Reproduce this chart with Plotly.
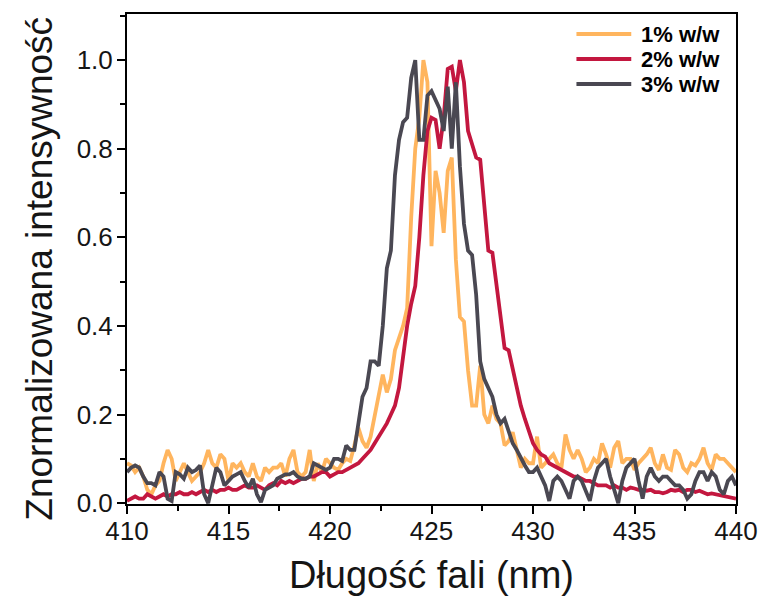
import numpy as np
import plotly.graph_objects as go

# Wavelength grid of the spectra (nm), 0.2 nm sampling
wavelength = np.round(np.arange(410.0, 440.0001, 0.2), 1)

# Normalised emission intensity, 1% w/w
int_1 = [
    0.09, 0.085, 0.07, 0.08, 0.06, 0.03, 0.02, 0.04, 0.05, 0.09,
    0.12, 0.10, 0.05, 0.07, 0.09, 0.07, 0.05, 0.06, 0.07, 0.09,
    0.12, 0.09, 0.08, 0.11, 0.10, 0.05, 0.09, 0.08, 0.09, 0.07,
    0.06, 0.09, 0.06, 0.05, 0.08, 0.07, 0.08, 0.08, 0.09, 0.06,
    0.10, 0.12, 0.07, 0.06, 0.07, 0.12, 0.05, 0.09, 0.07, 0.10,
    0.09, 0.08, 0.075, 0.09, 0.10, 0.095, 0.13, 0.17, 0.14, 0.125,
    0.15, 0.20, 0.24, 0.29, 0.25, 0.28, 0.345, 0.37, 0.40, 0.44,
    0.645, 0.80, 0.87, 1.0, 0.95, 0.58, 0.75, 0.70, 0.61, 0.75,
    0.78, 0.55, 0.42, 0.41, 0.30, 0.22, 0.22, 0.31, 0.20, 0.18,
    0.22, 0.19, 0.18, 0.13, 0.14, 0.16, 0.12, 0.08, 0.10, 0.09,
    0.09, 0.15, 0.08, 0.09, 0.10, 0.11, 0.09, 0.08, 0.155, 0.12,
    0.10, 0.12, 0.10, 0.07, 0.08, 0.10, 0.09, 0.135, 0.11, 0.08,
    0.125, 0.14, 0.09, 0.10, 0.10, 0.075, 0.09, 0.10, 0.11, 0.125,
    0.09, 0.075, 0.11, 0.08, 0.075, 0.12, 0.11, 0.08, 0.07, 0.09,
    0.085, 0.10, 0.125, 0.09, 0.075, 0.11, 0.10, 0.10, 0.09, 0.08,
    0.07,
]

# Normalised emission intensity, 2% w/w
int_2 = [
    0.005, 0.01, 0.015, 0.01, 0.01, 0.02, 0.015, 0.01, 0.015, 0.02,
    0.015, 0.02, 0.02, 0.025, 0.02, 0.02, 0.025, 0.02, 0.025, 0.03,
    0.025, 0.03, 0.025, 0.03, 0.03, 0.035, 0.03, 0.03, 0.035, 0.04,
    0.035, 0.035, 0.04, 0.035, 0.03, 0.04, 0.045, 0.04, 0.05, 0.045,
    0.05, 0.045, 0.05, 0.055, 0.055, 0.06, 0.06, 0.065, 0.07, 0.07,
    0.06, 0.065, 0.07, 0.07, 0.075, 0.08, 0.085, 0.09, 0.10, 0.11,
    0.12, 0.135, 0.15, 0.165, 0.18, 0.20, 0.22, 0.26, 0.33, 0.40,
    0.45, 0.49, 0.60, 0.74, 0.84, 0.87, 0.865, 0.80, 0.87, 0.98,
    0.985, 0.93, 1.0, 0.95, 0.84, 0.81, 0.78, 0.775, 0.68, 0.57,
    0.565, 0.49, 0.41, 0.35, 0.345, 0.30, 0.26, 0.22, 0.19, 0.16,
    0.135, 0.12, 0.11, 0.105, 0.09, 0.085, 0.08, 0.075, 0.07, 0.067,
    0.06, 0.06, 0.055, 0.05, 0.05, 0.045, 0.04, 0.04, 0.04, 0.035,
    0.04, 0.035, 0.035, 0.03, 0.035, 0.033, 0.03, 0.03, 0.028, 0.03,
    0.025, 0.025, 0.022, 0.025, 0.03, 0.028, 0.03, 0.025, 0.03, 0.03,
    0.025, 0.028, 0.025, 0.02, 0.022, 0.02, 0.018, 0.015, 0.014, 0.012,
    0.01,
]

# Normalised emission intensity, 3% w/w
int_3 = [
    0.07, 0.08, 0.085, 0.08, 0.06, 0.045, 0.045, 0.04, 0.07, 0.06,
    0.01, 0.005, 0.07, 0.065, 0.055, 0.08, 0.07, 0.075, 0.085, 0.02,
    0.0, 0.04, 0.08, 0.07, 0.04, 0.05, 0.06, 0.065, 0.07, 0.05,
    0.035, 0.055, 0.02, 0.002, 0.03, 0.035, 0.04, 0.055, 0.06, 0.065,
    0.065, 0.07, 0.06, 0.055, 0.055, 0.06, 0.09, 0.085, 0.08, 0.075,
    0.08, 0.10, 0.10, 0.095, 0.13, 0.12, 0.12, 0.18, 0.24, 0.26,
    0.32, 0.32, 0.31, 0.40, 0.53, 0.57, 0.74, 0.82, 0.86, 0.87,
    0.96, 1.0, 0.82, 0.82, 0.92, 0.93, 0.91, 0.89, 0.84, 0.94,
    0.80, 0.95, 0.76, 0.63, 0.57, 0.56, 0.47, 0.32, 0.28, 0.26,
    0.24, 0.20, 0.18, 0.19, 0.16, 0.135, 0.12, 0.10, 0.085, 0.07,
    0.07, 0.08, 0.06, 0.04, 0.005, 0.05, 0.06, 0.05, 0.03, 0.01,
    0.05, 0.06, 0.05, 0.03, 0.005, 0.05, 0.08, 0.09, 0.10, 0.06,
    0.03, 0.0, 0.05, 0.08, 0.09, 0.10, 0.05, 0.01, 0.06, 0.08,
    0.06, 0.05, 0.06, 0.06, 0.05, 0.04, 0.04, 0.03, 0.01, 0.02,
    0.05, 0.07, 0.07, 0.05, 0.07, 0.06, 0.03, 0.02, 0.05, 0.06,
    0.04,
]

series_names = ["1% w/w", "2% w/w", "3% w/w"]
series_values = [int_1, int_2, int_3]
series_colors = ["#FFB55E", "#C3173F", "#4A4852"]

x_ticks = [410, 415, 420, 425, 430, 435, 440]
y_ticks = [0.0, 0.2, 0.4, 0.6, 0.8, 1.0]

FONT = "Arial, Liberation Sans, sans-serif"
TEXT = "#151515"

fig = go.Figure()
for name, vals, col in zip(series_names, series_values, series_colors):
    fig.add_trace(go.Scatter(
        x=wavelength, y=vals, mode="lines", name=name, showlegend=False,
        line=dict(color=col, width=3.8),
    ))

# Key in the upper-right corner: a coloured stroke and a bold label per series
key_y = [0.959, 0.908, 0.857]
for name, col, yk in zip(series_names, series_colors, key_y):
    fig.add_shape(type="line", xref="paper", yref="paper",
                  x0=0.738, x1=0.828, y0=yk, y1=yk,
                  line=dict(color=col, width=4))
    fig.add_annotation(xref="paper", yref="paper", x=0.84, y=yk,
                       xanchor="left", yanchor="middle", showarrow=False,
                       text="<b>%s</b>" % name,
                       font=dict(family=FONT, size=22, color="black"))

# Vertical axis title, placed as rotated text beside the tick labels
fig.add_annotation(xref="paper", yref="paper", x=-0.143, y=0.48,
                   xanchor="center", yanchor="middle", showarrow=False,
                   textangle=-90, text="Znormalizowana intensywność",
                   font=dict(family=FONT, size=37, color=TEXT))

axis_common = dict(
    showline=True, linecolor="black", linewidth=2, mirror=True,
    ticks="outside", ticklen=8, tickwidth=2, tickcolor="black",
    showgrid=False, zeroline=False, automargin=False,
    tickfont=dict(family=FONT, size=26, color=TEXT),
)

fig.update_xaxes(
    range=[410, 440], tickvals=x_ticks, ticktext=[str(v) for v in x_ticks],
    minor=dict(ticks="outside", ticklen=5, tickwidth=2, tickcolor="black", dtick=2.5),
    ticklabelstandoff=-5,
    title=dict(text="Długość fali (nm)", font=dict(family=FONT, size=38, color=TEXT), standoff=16),
    **axis_common,
)
fig.update_yaxes(
    range=[-0.002, 1.104], tickvals=y_ticks, ticktext=["%.1f" % v for v in y_ticks],
    minor=dict(ticks="outside", ticklen=5, tickwidth=2, tickcolor="black", dtick=0.1, tick0=0),
    ticklabelstandoff=-1,
    **axis_common,
)

fig.update_layout(
    width=760, height=601,
    margin=dict(l=127, r=24, t=14, b=97),
    paper_bgcolor="white", plot_bgcolor="white",
)

fig.write_html("out.html")
